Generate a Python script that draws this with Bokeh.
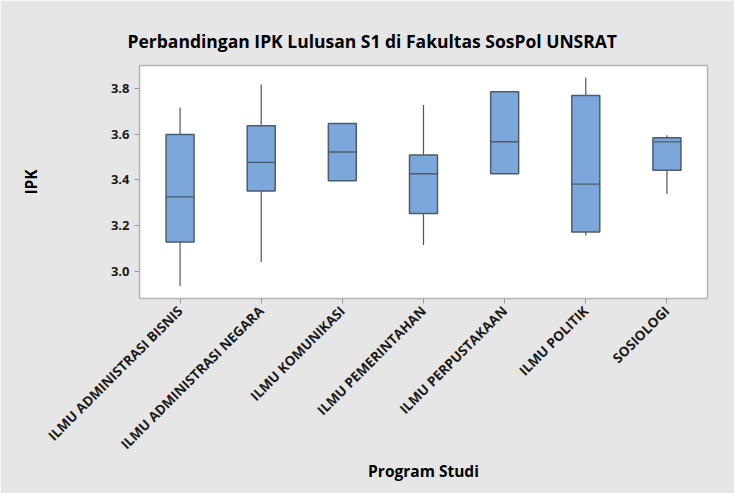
import math
from bokeh.plotting import figure
from bokeh.models import FactorRange, FixedTicker, ColumnDataSource, PrintfTickFormatter
from bokeh.embed import file_html
from bokeh.resources import INLINE

categories = ["ILMU ADMINISTRASI BISNIS", "ILMU ADMINISTRASI NEGARA", "ILMU KOMUNIKASI",
              "ILMU PEMERINTAHAN", "ILMU PERPUSTAKAAN", "ILMU POLITIK", "SOSIOLOGI"]
lower = [2.937, 3.041, 3.397, 3.116, 3.427, 3.157, 3.339]
q1 = [3.129, 3.352, 3.397, 3.253, 3.427, 3.173, 3.442]
median = [3.326, 3.477, 3.522, 3.427, 3.567, 3.382, 3.566]
q3 = [3.598, 3.637, 3.647, 3.509, 3.785, 3.769, 3.584]
upper = [3.717, 3.817, 3.647, 3.727, 3.785, 3.848, 3.595]
y_ticks = [3.0, 3.2, 3.4, 3.6, 3.8]

FONT = "Open Sans"

src = ColumnDataSource(dict(cat=categories, lower=lower, q1=q1, median=median, q3=q3, upper=upper))

p = figure(width=734, height=493, output_backend="svg", toolbar_location=None,
           x_range=FactorRange(*categories, range_padding=0), y_range=(2.882, 3.90),
           title="Perbandingan IPK Lulusan S1 di Fakultas SosPol UNSRAT",
           min_border_left=139, min_border_right=27, min_border_top=65, min_border_bottom=195)

p.background_fill_color = "white"
p.border_fill_color = "#e6e6e6"
p.outline_line_color = "#b4b4b4"
p.outline_line_width = 1.5
p.xgrid.visible = False
p.ygrid.visible = False

p.title.text_font = FONT
p.title.text_font_size = "17.5px"
p.title.text_font_style = "bold"
p.title.text_color = "black"
p.title.align = "left"
p.title.offset = -12
p.title.standoff = 25

# whiskers
p.segment(x0="cat", y0="q3", x1="cat", y1="upper", source=src, line_color="#555555", line_width=1.2)
p.segment(x0="cat", y0="lower", x1="cat", y1="q1", source=src, line_color="#555555", line_width=1.2)
# boxes
p.vbar(x="cat", width=0.345, bottom="q1", top="q3", source=src,
       fill_color="#7ba7da", line_color="#4d5c6c", line_width=1.5)
# medians
p.rect(x="cat", y="median", width=0.345, height=0.0001, source=src,
       fill_alpha=0, line_color="#4d5c6c", line_width=1.3)

p.yaxis.ticker = FixedTicker(ticks=y_ticks)
p.yaxis.formatter = PrintfTickFormatter(format="%.1f")
p.yaxis.axis_label = "IPK"
p.xaxis.axis_label = "Program Studi"
for ax in (p.xaxis, p.yaxis):
    ax.axis_line_color = "#b4b4b4"
    ax.major_tick_line_color = "#9a9a9a"
    ax.major_tick_in = 0
    ax.major_tick_out = 5
    ax.minor_tick_line_color = None
    ax.major_label_text_font = FONT
    ax.major_label_text_font_style = "bold"
    ax.major_label_text_color = "#1a1a1a"
    ax.axis_label_text_font = FONT
    ax.axis_label_text_font_style = "bold"
    ax.axis_label_text_font_size = "15.5px"
    ax.axis_label_text_color = "black"

p.yaxis.major_label_text_font_size = "13px"
p.xaxis.major_label_text_font_size = "13.5px"
p.xaxis.major_label_orientation = math.pi / 4
p.yaxis.axis_label_standoff = 66
p.xaxis.axis_label_standoff = -2

open("out.html", "w").write(file_html(p, INLINE))
